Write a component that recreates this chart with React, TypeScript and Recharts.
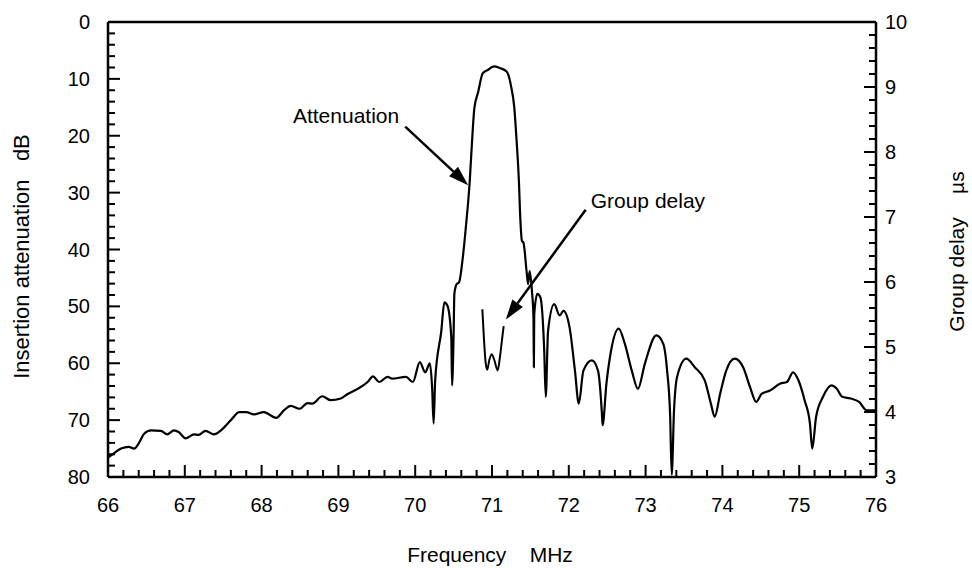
import { Line, LineChart, ReferenceLine, XAxis, YAxis } from "recharts"

const FONT = "'Liberation Sans', Arial, Helvetica, sans-serif"

// attenuation trace (MHz, dB)
const FREQ_MHZ = [
  66.0, 66.03, 66.08, 66.17, 66.27, 66.34, 66.4, 66.47, 66.56, 66.69, 66.77, 66.86, 66.92, 67.01, 67.12, 67.18,
  67.27, 67.38, 67.47, 67.6, 67.71, 67.8, 67.9, 68.03, 68.19, 68.29, 68.38, 68.49, 68.6, 68.66, 68.79, 68.9,
  69.03, 69.12, 69.25, 69.38, 69.45, 69.53, 69.64, 69.7, 69.88, 69.97, 70.06, 70.13, 70.19, 70.22, 70.24, 70.26,
  70.34, 70.38, 70.42, 70.47, 70.48, 70.5, 70.51, 70.54, 70.57, 70.62, 70.66, 70.71, 70.74, 70.77, 70.82, 70.88,
  70.95, 71.0, 71.03, 71.1, 71.19, 71.25, 71.29, 71.32, 71.35, 71.37, 71.39, 71.41, 71.45, 71.47, 71.49, 71.52,
  71.54, 71.545, 71.55, 71.59, 71.63, 71.68, 71.7, 71.73, 71.81, 71.88, 71.93, 72.01, 72.08, 72.13, 72.19, 72.3,
  72.38, 72.43, 72.44, 72.49, 72.55, 72.65, 72.73, 72.82, 72.9, 72.99, 73.14, 73.23, 73.28, 73.32, 73.34, 73.37,
  73.41, 73.53, 73.64, 73.77, 73.85, 73.9, 73.97, 74.05, 74.16, 74.27, 74.36, 74.44, 74.51, 74.62, 74.75, 74.84,
  74.92, 74.99, 75.07, 75.14, 75.17, 75.22, 75.31, 75.42, 75.49, 75.56, 75.67, 75.78, 75.88, 76.0,
]
const ATTEN_DB = [
  76.6, 76.3, 75.8, 75.0, 74.7, 75.0, 74.1, 72.4, 71.8, 71.9, 72.5, 71.8, 72.1, 73.2, 72.5, 72.6,
  71.9, 72.5, 71.8, 70.0, 68.6, 68.6, 69.0, 68.6, 69.6, 68.3, 67.5, 68.0, 67.0, 67.1, 65.8, 66.5,
  66.2, 65.4, 64.5, 63.3, 62.3, 63.3, 62.4, 62.7, 62.4, 63.3, 59.8, 61.6, 60.0, 64.2, 70.6, 63.0,
  54.3, 49.3, 49.9, 55.4, 63.9, 55.0, 47.8, 46.1, 45.8, 41.4, 36.0, 28.0, 21.0, 15.2, 12.3, 9.0,
  8.4, 7.9, 7.8, 8.1, 8.7, 11.4, 15.0, 20.8, 27.9, 35.0, 38.5, 38.8, 43.8, 46.1, 43.8, 47.3,
  52.0, 60.7, 51.4, 47.8, 48.4, 57.8, 65.9, 54.3, 49.6, 51.6, 50.8, 53.7, 61.3, 67.1, 61.3, 59.5,
  61.3, 68.6, 70.9, 63.6, 57.8, 53.9, 56.6, 61.3, 64.5, 60.1, 55.1, 56.6, 61.3, 69.4, 79.6, 68.3,
  62.4, 59.2, 60.7, 63.0, 67.1, 69.4, 65.4, 61.3, 59.2, 60.7, 64.2, 66.8, 65.4, 64.8, 63.6, 63.3,
  61.6, 63.0, 66.5, 70.6, 75.0, 69.4, 65.9, 63.9, 64.5, 65.9, 66.2, 66.8, 68.3, 68.3,
]

// group delay trace (MHz, µs), only shown inside the passband
const GD_FREQ_MHZ = [70.874, 70.896, 70.918, 70.939, 70.965, 70.996, 71.03, 71.074, 71.104, 71.13, 71.152]
const GD_US = [5.58, 5.11, 4.75, 4.65, 4.8, 4.89, 4.8, 4.64, 4.85, 5.11, 5.32]

const X_LABELS = [66, 67, 68, 69, 70, 71, 72, 73, 74, 75, 76]
const DB_LABELS = [0, 10, 20, 30, 40, 50, 60, 70, 80]
const US_LABELS = [3, 4, 5, 6, 7, 8, 9, 10]

// minor tick positions between the labelled ones
const steps = (from: number, to: number, step: number) => {
  const out: number[] = []
  for (let v = from; v <= to + 1e-9; v += step) out.push(Math.round(v * 10) / 10)
  return out
}
const X_TICKS = steps(66, 76, 0.2)
const DB_TICKS = steps(0, 80, 2)
const US_TICKS = steps(3, 10, 0.2)

const attData = FREQ_MHZ.map((f, i) => ({ f, att: ATTEN_DB[i] }))
const gdData = GD_FREQ_MHZ.map((f, i) => ({ f, gd: GD_US[i] }))

// axis labels only; the inward tick marks are drawn as reference lines below
const XTick = (p: any) => {
  const v = p.payload.value
  if (!X_LABELS.includes(v)) return <g />
  return (
    <text x={p.x} y={p.y + 35} textAnchor="middle" fontSize={20} fill="#000">
      {v}
    </text>
  )
}

const LeftTick = (p: any) => {
  const v = p.payload.value
  if (!DB_LABELS.includes(v)) return <g />
  return (
    <text x={p.x - 18} y={p.y + 7} textAnchor="end" fontSize={20} fill="#000">
      {v}
    </text>
  )
}

const RightTick = (p: any) => {
  const v = p.payload.value
  if (!US_LABELS.includes(v)) return <g />
  return (
    <text x={p.x + 9} y={p.y + 7} textAnchor="start" fontSize={20} fill="#000">
      {v}
    </text>
  )
}

// tick mark shapes: take the full reference line and keep a short piece at one edge
const bottomMark = (len: number) => (p: any) => {
  const yb = Math.max(p.y1, p.y2)
  return <line x1={p.x1} x2={p.x1} y1={yb} y2={yb - len} stroke="#000" strokeWidth={2} />
}
const leftMark = (len: number) => (p: any) => {
  const xl = Math.min(p.x1, p.x2)
  return <line x1={xl} x2={xl + len} y1={p.y1} y2={p.y1} stroke="#000" strokeWidth={2} />
}
const rightMark = (len: number) => (p: any) => {
  const xr = Math.max(p.x1, p.x2)
  return <line x1={xr} x2={xr - len} y1={p.y1} y2={p.y1} stroke="#000" strokeWidth={2} />
}

const vbOf = (p: any) => p.viewBox ?? p

const XTitle = (p: any) => {
  const vb = vbOf(p)
  return (
    <text x={vb.x + vb.width / 2 - 2} y={vb.y + 85} textAnchor="middle" fontSize={21} fill="#000" style={{ whiteSpace: "pre" }}>
      {"Frequency    MHz"}
    </text>
  )
}

const LeftTitle = (p: any) => {
  const vb = vbOf(p)
  const cx = vb.x - 27
  const cy = vb.y + vb.height / 2 + 7
  return (
    <text x={cx} y={cy} transform={`rotate(-90 ${cx} ${cy})`} textAnchor="middle" dominantBaseline="central" fontSize={22} fill="#000" style={{ whiteSpace: "pre" }}>
      {"Insertion attenuation   dB"}
    </text>
  )
}

const RightTitle = (p: any) => {
  const vb = vbOf(p)
  const cx = vb.x + 80
  const cy = vb.y + vb.height / 2 + 2
  return (
    <text x={cx} y={cy} transform={`rotate(-90 ${cx} ${cy})`} textAnchor="middle" dominantBaseline="central" fontSize={21} fill="#000" style={{ whiteSpace: "pre" }}>
      {"Group delay    µs"}
    </text>
  )
}

// arrow drawn from segment start to segment end, caption next to the start
const arrowShape = (caption: string, side: "before" | "after") => (p: any) => {
  const { x1, y1, x2, y2 } = p
  const a = Math.atan2(y2 - y1, x2 - x1)
  const len = 20
  const hw = 6.5
  const bx = x2 - len * Math.cos(a)
  const by = y2 - len * Math.sin(a)
  const pts = `${x2},${y2} ${bx + hw * Math.sin(a)},${by - hw * Math.cos(a)} ${bx - hw * Math.sin(a)},${by + hw * Math.cos(a)}`
  return (
    <g>
      <line x1={x1} y1={y1} x2={bx} y2={by} stroke="#000" strokeWidth={2.5} />
      <polygon points={pts} fill="#000" />
      {side === "before" ? (
        <text x={x1 - 6} y={y1 - 4} textAnchor="end" fontSize={21} fill="#000">{caption}</text>
      ) : (
        <text x={x1 + 5} y={y1 - 2} textAnchor="start" fontSize={21} fill="#000">{caption}</text>
      )}
    </g>
  )
}

export default function App() {
  return (
    <div style={{ position: "absolute", left: 0, top: 0, width: 972, height: 568, background: "#fff" }}>
      <LineChart
        width={972}
        height={568}
        data={attData}
        margin={{ top: 22, right: 36, bottom: 61, left: 48 }}
        style={{ fontFamily: FONT }}
      >
        <XAxis
          dataKey="f"
          type="number"
          domain={[66, 76]}
          ticks={X_TICKS}
          interval={0}
          tickSize={0}
          tickMargin={0}
          tickLine={false}
          tick={XTick}
          axisLine={{ stroke: "#000", strokeWidth: 2.5 }}
          height={30}
          label={XTitle}
          allowDataOverflow
        />
        <YAxis
          yAxisId="left"
          type="number"
          domain={[0, 80]}
          reversed
          ticks={DB_TICKS}
          interval={0}
          tickSize={0}
          tickMargin={0}
          tickLine={false}
          tick={LeftTick}
          axisLine={{ stroke: "#000", strokeWidth: 2.5 }}
          width={60}
          label={LeftTitle}
          allowDataOverflow
        />
        <YAxis
          yAxisId="right"
          orientation="right"
          type="number"
          domain={[3, 10]}
          ticks={US_TICKS}
          interval={0}
          tickSize={0}
          tickMargin={0}
          tickLine={false}
          tick={RightTick}
          axisLine={{ stroke: "#000", strokeWidth: 2.5 }}
          width={60}
          label={RightTitle}
          allowDataOverflow
        />
        <ReferenceLine yAxisId="left" y={0} stroke="#000" strokeWidth={2.5} />
        {X_TICKS.map((v) => (
          <ReferenceLine key={`xt-${v}`} yAxisId="left" x={v} shape={bottomMark(X_LABELS.includes(v) ? 12 : 7)} />
        ))}
        {DB_TICKS.map((v) => (
          <ReferenceLine key={`lt-${v}`} yAxisId="left" y={v} shape={leftMark(DB_LABELS.includes(v) ? 12 : 7)} />
        ))}
        {US_TICKS.map((v) => (
          <ReferenceLine key={`rt-${v}`} yAxisId="right" y={v} shape={rightMark(US_LABELS.includes(v) ? 12 : 7)} />
        ))}
        <Line
          yAxisId="left"
          dataKey="att"
          type="monotoneX"
          stroke="#000"
          strokeWidth={2.2}
          dot={false}
          activeDot={false}
          isAnimationActive={false}
        />
        <Line
          yAxisId="right"
          data={gdData}
          dataKey="gd"
          type="monotoneX"
          stroke="#000"
          strokeWidth={2}
          dot={false}
          activeDot={false}
          isAnimationActive={false}
        />
        <ReferenceLine
          yAxisId="left"
          segment={[{ x: 69.87, y: 18.4 }, { x: 70.69, y: 28.7 }]}
          shape={arrowShape("Attenuation", "before")}
        />
        <ReferenceLine
          yAxisId="left"
          segment={[{ x: 72.22, y: 33.0 }, { x: 71.18, y: 52.3 }]}
          shape={arrowShape("Group delay", "after")}
        />
      </LineChart>
    </div>
  )
}
